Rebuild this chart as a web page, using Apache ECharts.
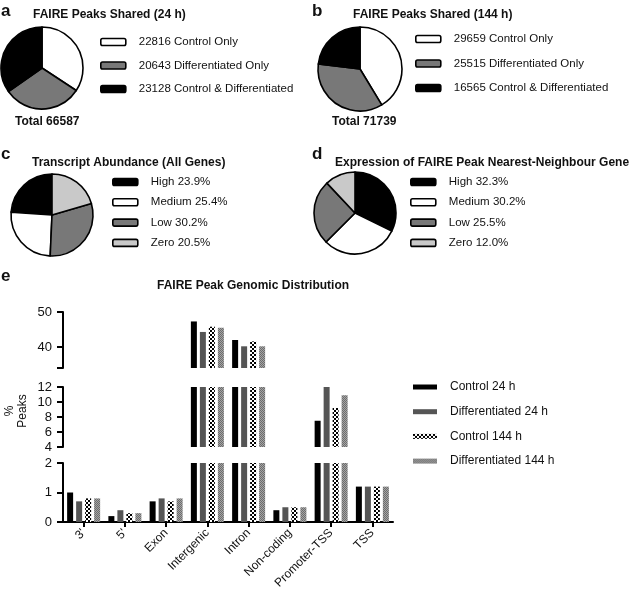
<!DOCTYPE html>
<html><head><meta charset="utf-8">
<script src="https://cdn.jsdelivr.net/npm/echarts@6/dist/echarts.min.js"></script>
<style>html,body{margin:0;padding:0;background:#fff}#c{width:631px;height:595px}</style>
</head><body><div id="c"></div>
<script>
// ---- data ----
const sharedLabels = ['Control Only', 'Differentiated Only', 'Control & Differentiated'];
const shared24 = [22816, 20643, 23128];
const shared144 = [29659, 25515, 16565];
const totals = [66587, 71739];
const exprLabels = ['High', 'Medium', 'Low', 'Zero'];
const abundanceAll = [23.9, 25.4, 30.2, 20.5];
const nearestGene = [32.3, 30.2, 25.5, 12.0];
const categories = ["3'", "5'", 'Exon', 'Intergenic', 'Intron', 'Non-coding', 'Promoter-TSS', 'TSS'];
const seriesNames = ['Control 24 h', 'Differentiated 24 h', 'Control 144 h', 'Differentiated 144 h'];
const control24 = [1.0, 0.2, 0.7, 47.3, 42.0, 0.4, 7.5, 1.2];
const diff24 = [0.7, 0.4, 0.8, 44.3, 40.2, 0.5, 12.0, 1.2];
const control144 = [0.8, 0.3, 0.7, 45.8, 41.6, 0.5, 9.2, 1.2];
const diff144 = [0.8, 0.3, 0.8, 45.5, 40.2, 0.5, 10.9, 1.2];
const segments = [[34, 50], [4, 12], [0, 2]];
const topTicks = [34, 40, 50];
const topLabels = [40, 50];

// ---- styles ----
function pattern(size, cell, c1, c2) {
  const cv = document.createElement('canvas');
  cv.width = size; cv.height = size;
  const g = cv.getContext('2d');
  g.fillStyle = c1; g.fillRect(0, 0, size, size);
  g.fillStyle = c2;
  for (let y = 0; y < size; y += cell) for (let x = 0; x < size; x += cell)
    if (((x / cell) + (y / cell)) % 2 === 0) g.fillRect(x, y, cell, cell);
  return { image: cv, repeat: 'repeat' };
}
const barColors = ['#000000', '#555555', pattern(4, 2, '#ffffff', '#000000'), pattern(2, 1, '#a4a4a4', '#6c6c6c')];
const pieGray = '#787878', pieLight = '#c9c9c9';
const F = 'Liberation Sans, Arial, sans-serif';

const chart = echarts.init(document.getElementById('c'), null, { renderer: 'canvas' });

function pieSeries(center, r, names, values, colors, clockwise) {
  return {
    type: 'pie', center: center, radius: r, clockwise: clockwise, startAngle: 90,
    label: { show: false }, labelLine: { show: false }, silent: true,
    emphasis: { disabled: true },
    itemStyle: { borderColor: '#000', borderWidth: 1.6 },
    data: values.map((v, i) => ({ name: names[i], value: v, itemStyle: { color: colors[i] } }))
  };
}
const namesA = shared24.map((v, i) => v + ' ' + sharedLabels[i]);
const namesB = shared144.map((v, i) => v + ' ' + sharedLabels[i]);
const namesC = abundanceAll.map((v, i) => exprLabels[i] + ' ' + v.toFixed(1) + '%');
const namesD = nearestGene.map((v, i) => exprLabels[i] + ' ' + v.toFixed(1) + '%');

function pieLegend(left, top, data, gap) {
  return {
    orient: 'vertical', left: left, top: top, padding: 0, itemGap: gap,
    itemWidth: 25, itemHeight: 7, icon: 'roundRect', selectedMode: false,
    itemStyle: { borderColor: '#000', borderWidth: 1.6 },
    textStyle: { fontFamily: F, fontSize: 11.5, color: '#111', lineHeight: 14, padding: [0, 0, 0, 8] },
    data: data
  };
}

const grids = [
  { left: 63, width: 330, top: 312, height: 56 },
  { left: 63, width: 330, top: 387, height: 60 },
  { left: 63, width: 330, top: 463, height: 59 }
];
const xAxes = grids.map((g, i) => ({
  type: 'category', gridIndex: i, data: categories, boundaryGap: true,
  show: i === 2,
  axisLine: { show: i === 2, lineStyle: { color: '#000', width: 2 } },
  axisTick: { show: i === 2, alignWithLabel: true, length: 5, lineStyle: { color: '#000', width: 2 } },
  axisLabel: { show: i === 2, rotate: 45, margin: 9, fontFamily: F, fontSize: 12, color: '#111' }
}));
const yAxes = segments.map((s, i) => {
  const ax = {
    type: 'value', gridIndex: i, min: s[0], max: s[1],
    splitLine: { show: false },
    axisLine: { show: true, onZero: false, lineStyle: { color: '#000', width: 2 } },
    axisTick: { show: true, length: 6, lineStyle: { color: '#000', width: 2 } },
    axisLabel: { fontFamily: F, fontSize: 13, color: '#111', margin: 11 }
  };
  if (i === 0) {
    ax.axisTick.customValues = topTicks;
    ax.axisLabel.customValues = topLabels;
  } else {
    ax.interval = i === 1 ? 2 : 1;
  }
  return ax;
});
const allVals = [control24, diff24, control144, diff144];
const barSeries = [];
segments.forEach((s, gi) => {
  allVals.forEach((vals, si) => {
    barSeries.push({
      type: 'bar', name: seriesNames[si], xAxisIndex: gi, yAxisIndex: gi,
      barWidth: 6, barGap: '50%', silent: true, clip: true,
      itemStyle: { color: barColors[si] },
      data: vals.map(v => (v <= s[0] ? '-' : Math.min(v, s[1])))
    });
  });
});

const titleStyle = { fontFamily: F, fontSize: 12, fontWeight: 'bold', color: '#111' };
const letterStyle = { fontFamily: F, fontSize: 17, fontWeight: 'bold', color: '#111' };

chart.setOption({
  animation: false,
  backgroundColor: '#fff',
  title: [
    { text: 'a', left: 1, top: 3, padding: 0, textStyle: letterStyle },
    { text: 'b', left: 312, top: 3, padding: 0, textStyle: letterStyle },
    { text: 'c', left: 1, top: 146, padding: 0, textStyle: letterStyle },
    { text: 'd', left: 312, top: 146, padding: 0, textStyle: letterStyle },
    { text: 'e', left: 1, top: 268, padding: 0, textStyle: letterStyle },
    { text: 'FAIRE Peaks Shared (24 h)', left: 33, top: 9, padding: 0, textStyle: titleStyle },
    { text: 'FAIRE Peaks Shared (144 h)', left: 353, top: 9, padding: 0, textStyle: titleStyle },
    { text: 'Transcript Abundance (All Genes)', left: 32, top: 157, padding: 0, textStyle: titleStyle },
    { text: 'Expression of FAIRE Peak Nearest-Neighbour Gene', left: 335, top: 157, padding: 0, textStyle: titleStyle },
    { text: 'FAIRE Peak Genomic Distribution', left: 157, top: 280, padding: 0, textStyle: titleStyle },
    { text: 'Total ' + totals[0], left: 15, top: 116, padding: 0, textStyle: titleStyle },
    { text: 'Total ' + totals[1], left: 332, top: 116, padding: 0, textStyle: titleStyle }
  ],
  legend: [
    pieLegend(100, 35, namesA, 9.5),
    pieLegend(415, 32, namesB, 10.5),
    pieLegend(112, 175, namesC, 6.3),
    pieLegend(410, 175, namesD, 6.3),
    {
      orient: 'vertical', left: 413, top: 380, padding: 0, itemGap: 10.7,
      itemWidth: 24, itemHeight: 5, icon: 'rect', selectedMode: false,
      itemStyle: { borderWidth: 0 },
      textStyle: { fontFamily: F, fontSize: 12, color: '#111', lineHeight: 14, padding: [0, 0, 0, 8] },
      data: seriesNames
    }
  ],
  grid: grids,
  xAxis: xAxes,
  yAxis: yAxes,
  graphic: [{
    type: 'text', x: 16, y: 411, rotation: Math.PI / 2,
    style: { text: '%\nPeaks', fontFamily: F, fontSize: 12, fill: '#111', align: 'center', verticalAlign: 'middle', lineHeight: 13 }
  }],
  series: [
    pieSeries([42, 68], 41, namesA, shared24, ['#ffffff', pieGray, '#000000'], true),
    pieSeries([360, 69], 42, namesB, shared144, ['#ffffff', pieGray, '#000000'], true),
    pieSeries([52, 215], 41, namesC, abundanceAll, ['#000000', '#ffffff', pieGray, pieLight], false),
    pieSeries([355, 213], 41, namesD, nearestGene, ['#000000', '#ffffff', pieGray, pieLight], true)
  ].concat(barSeries)
});
</script></body></html>
